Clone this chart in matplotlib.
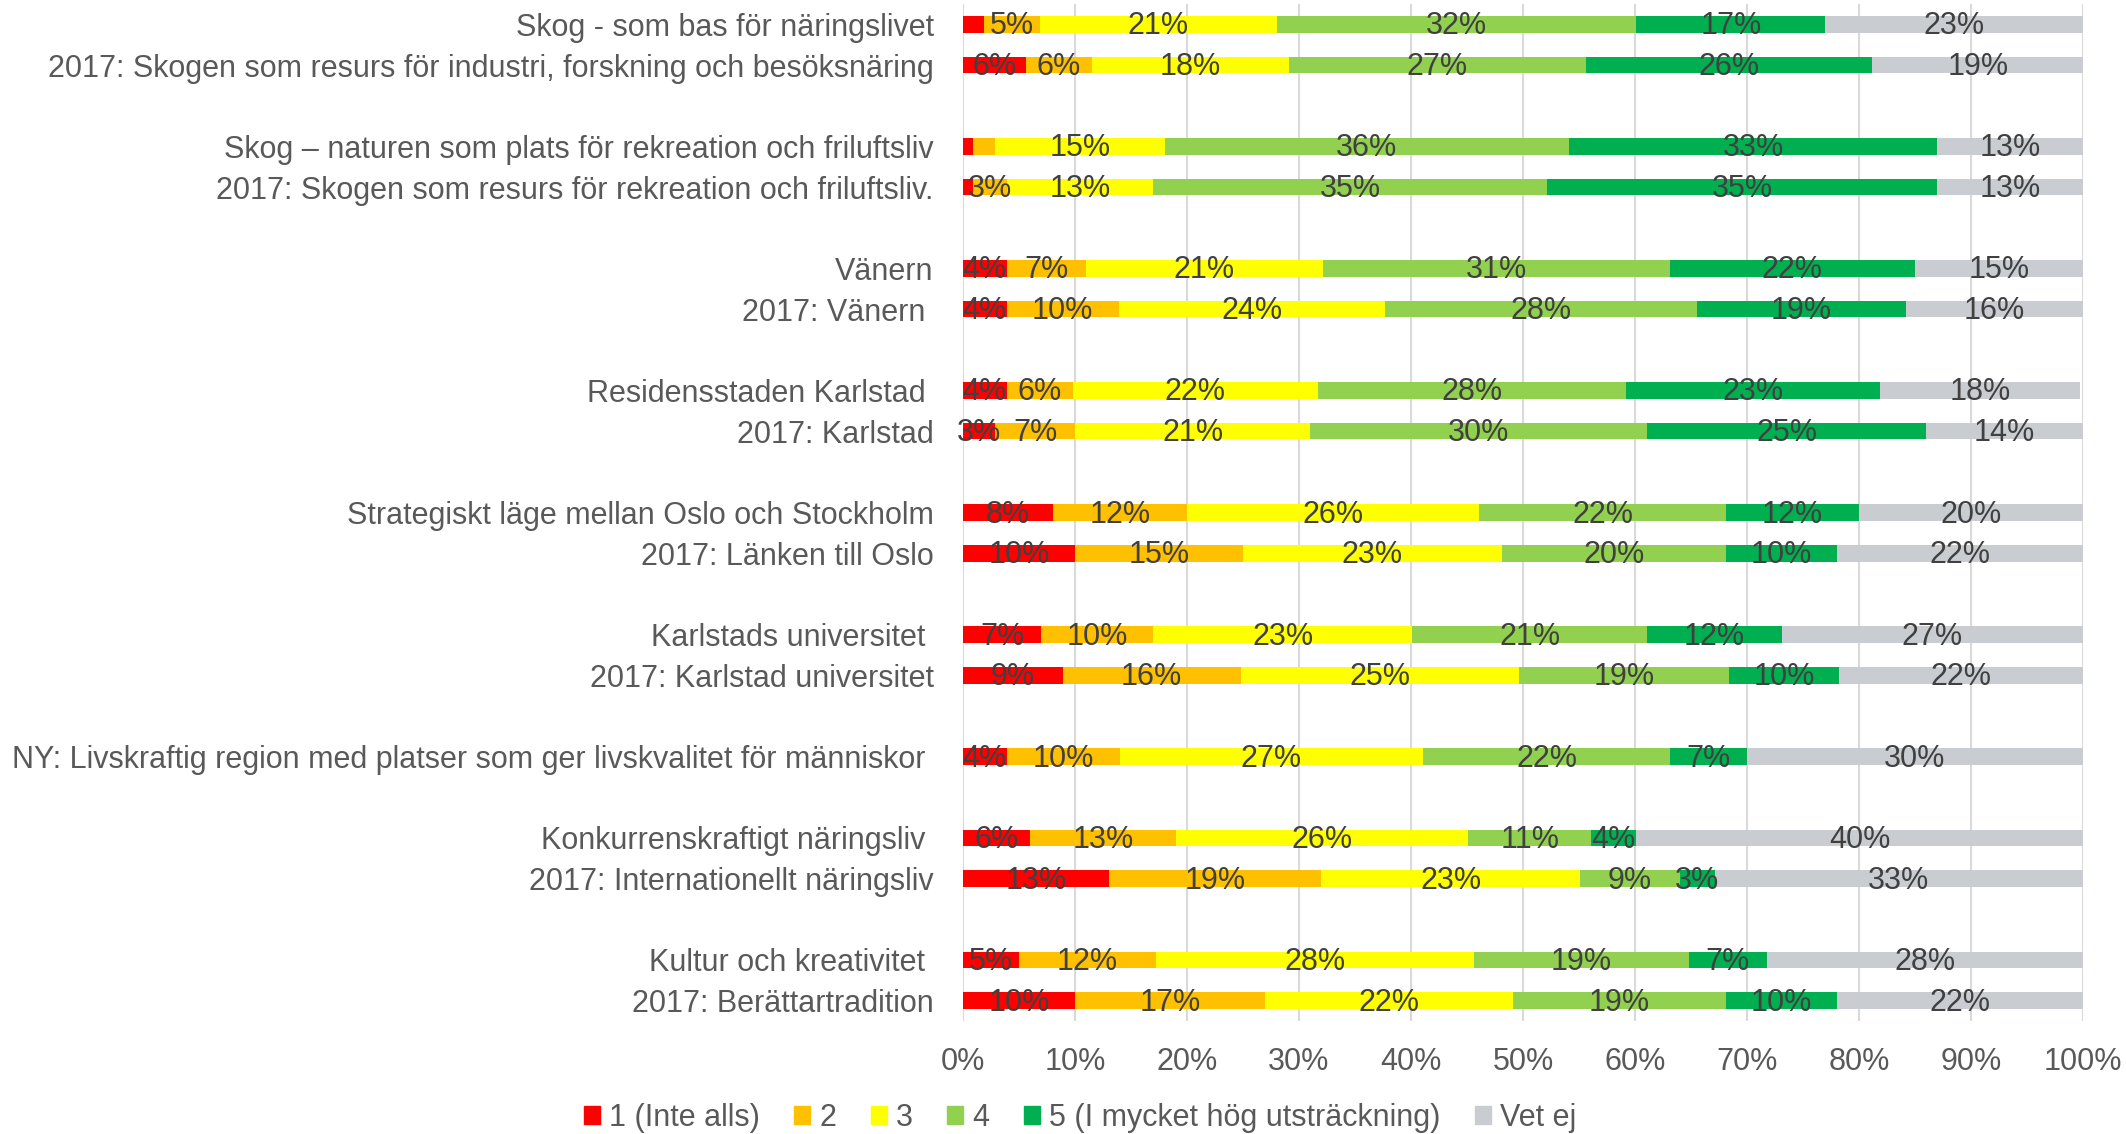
import matplotlib
matplotlib.use("Agg")
import matplotlib.pyplot as plt
from matplotlib.patches import Rectangle
from matplotlib.ticker import FuncFormatter

plt.rcParams['font.family'] = ['Liberation Sans', 'DejaVu Sans']

# ---- data ----
categories = [
    ["Skog - som bas för näringslivet",
     "2017: Skogen som resurs för industri, forskning och besöksnäring"],
    ["Skog – naturen som plats för rekreation och friluftsliv",
     "2017: Skogen som resurs för rekreation och friluftsliv."],
    ["Vänern", "2017: Vänern "],
    ["Residensstaden Karlstad ", "2017: Karlstad"],
    ["Strategiskt läge mellan Oslo och Stockholm", "2017: Länken till Oslo"],
    ["Karlstads universitet ", "2017: Karlstad universitet"],
    ["NY: Livskraftig region med platser som ger livskvalitet för människor "],
    ["Konkurrenskraftigt näringsliv ", "2017: Internationellt näringsliv"],
    ["Kultur och kreativitet ", "2017: Berättartradition"],
]

series_names = ["1 (Inte alls)", "2", "3", "4", "5 (I mycket hög utsträckning)", "Vet ej"]

s1 = [1.9, 5.6, 0.9, 0.9, 3.9, 3.9, 3.9, 2.9, 8.0, 10.0, 7.0, 8.9, 3.9, 6.0, 13.0, 5.0, 10.0]
s2 = [5.0, 5.9, 2.0, 3.0, 7.1, 10.0, 5.9, 7.1, 12.0, 15.0, 10.0, 15.9, 10.1, 13.0, 19.0, 12.2, 17.0]
s3 = [21.1, 17.6, 15.1, 13.1, 21.1, 23.8, 21.9, 21.0, 26.1, 23.1, 23.1, 24.8, 27.1, 26.1, 23.1, 28.4, 22.1]
s4 = [32.1, 26.5, 36.1, 35.1, 31.0, 27.8, 27.5, 30.1, 22.0, 20.0, 21.0, 18.8, 22.0, 11.0, 8.9, 19.2, 19.0]
s5 = [16.9, 25.6, 32.9, 34.9, 21.9, 18.7, 22.7, 24.9, 11.9, 9.9, 12.0, 9.8, 6.9, 4.0, 3.1, 7.0, 9.9]
s6 = [23.0, 18.8, 13.0, 13.0, 15.0, 15.8, 17.8, 14.0, 20.0, 22.0, 26.9, 21.8, 30.0, 39.9, 32.9, 28.2, 22.0]

colors = ["#FF0000", "#FFC000", "#FFFF00", "#92D050", "#00B050", "#C9CDD1"]
x_ticks = [0, 10, 20, 30, 40, 50, 60, 70, 80, 90, 100]

# ---- layout ----
W, H = 2126, 1134
FS = 22
fig = plt.figure(figsize=(W / 100, H / 100), dpi=100)
ax = fig.add_axes([963 / W, 1 - 1021 / H, 1120 / W, (1021 - 4) / H])

# slot positions: each group followed by a blank slot
labels, ypos = [], []
slot = 0
for g in categories:
    for name in g:
        labels.append(name)
        ypos.append(slot)
        slot += 1
    slot += 1
n_slots = slot - 1

series = [s1, s2, s3, s4, s5, s6]
left = [0.0] * len(labels)
bh = 0.41
for vals, col in zip(series, colors):
    ax.barh(ypos, vals, left=left, height=bh, color=col, zorder=2, linewidth=0)
    for y, l, v in zip(ypos, left, vals):
        r = int(v + 0.5)
        if r >= 3:
            ax.text(l + v / 2, y + 0.05, f"{r}%", ha="center", va="center",
                    fontsize=FS, color="#404040", zorder=3)
    left = [a + b for a, b in zip(left, vals)]

ax.set_xlim(0, 100)
ax.set_ylim(n_slots - 0.5, -0.5)
ax.set_xticks(x_ticks)
ax.xaxis.set_major_formatter(FuncFormatter(lambda v, p: f"{int(v)}%"))
ax.set_yticks(ypos)
ax.set_yticklabels(labels)
ax.tick_params(axis="both", length=0, labelsize=FS, colors="#595959")
ax.tick_params(axis="x", pad=19)
ax.tick_params(axis="y", pad=21)
for sp in ax.spines.values():
    sp.set_visible(False)
ax.grid(axis="x", color="#D9D9D9", linewidth=1.5, zorder=0)
ax.set_axisbelow(True)

handles = [Rectangle((0, 0), 1, 1, color=c) for c in colors]
fig.legend(handles, series_names, loc="center", bbox_to_anchor=(1080 / W, 1 - 1118 / H),
           ncol=6, frameon=False, fontsize=FS, labelcolor="#595959",
           handlelength=0.53, handleheight=0.53, handletextpad=0.3,
           columnspacing=1.12, borderaxespad=0)

fig.savefig("out.png", dpi=100, facecolor="white")
